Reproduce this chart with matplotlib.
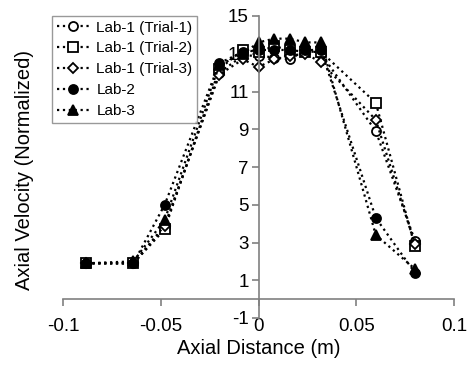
import matplotlib.pyplot as plt
import numpy as np

plt.rcParams['font.family'] = ['Liberation Sans', 'DejaVu Sans']
plt.rcParams['axes.unicode_minus'] = False

# axial positions (m)
x = [-0.088, -0.064, -0.048, -0.02, -0.008, 0.0, 0.008, 0.016, 0.024, 0.032, 0.06, 0.08]

# normalized axial velocity
lab1_t1 = [1.9, 1.9, 3.8, 12.0, 12.9, 12.9, 12.8, 12.7, 13.2, 13.0, 8.9, 3.1]
lab1_t2 = [1.9, 1.9, 3.7, 12.2, 13.2, 13.1, 13.4, 13.2, 13.1, 13.1, 10.4, 2.8]
lab1_t3 = [1.9, 1.9, 3.9, 11.9, 12.7, 12.3, 12.7, 12.9, 13.0, 12.55, 9.5, 2.9]
lab2 = [1.9, 1.9, 5.0, 12.5, 13.1, 13.2, 13.2, 13.2, 13.2, 13.2, 4.3, 1.4]
lab3 = [1.9, 2.0, 4.2, 12.4, 13.0, 13.6, 13.8, 13.8, 13.6, 13.6, 3.4, 1.6]

labels = ['Lab-1 (Trial-1)', 'Lab-1 (Trial-2)', 'Lab-1 (Trial-3)', 'Lab-2', 'Lab-3']
series = [lab1_t1, lab1_t2, lab1_t3, lab2, lab3]
markers = ['o', 's', 'D', 'o', '^']
faces = ['white', 'white', 'white', 'black', 'black']
sizes = [6.5, 6.5, 5.5, 6.5, 7.5]

fig = plt.figure(figsize=(4.69, 3.66), dpi=100)
ax = fig.add_axes([63 / 469, 48 / 366, 391 / 469, 302 / 366])

for y, lab, m, fc, ms in zip(series, labels, markers, faces, sizes):
    ax.plot(x, y, linestyle=':', color='black', linewidth=1.6,
            marker=m, markerfacecolor=fc, markeredgecolor='black',
            markeredgewidth=1.3, markersize=ms, label=lab)

ax.set_xlim(-0.1, 0.1)
ax.set_ylim(-1, 15)
ax.set_xticks([-0.1, -0.05, 0, 0.05, 0.1])
ax.set_xticklabels(['-0.1', '-0.05', '0', '0.05', '0.1'])
ax.set_yticks(np.arange(-1, 16, 2))

ax.spines['left'].set_position(('data', 0))
ax.spines['bottom'].set_position(('data', 0))
ax.spines['top'].set_visible(False)
ax.spines['right'].set_visible(False)
for s in ['left', 'bottom']:
    ax.spines[s].set_color('#808080')
    ax.spines[s].set_linewidth(1.2)

ax.tick_params(axis='both', colors='#808080', labelcolor='black', labelsize=13.5, length=5, width=1.2)
ax.tick_params(axis='x', pad=8.5)
ax.tick_params(axis='y', pad=2)

fig.text(259 / 469, 1 - 348 / 366, 'Axial Distance (m)', ha='center', va='center', fontsize=14.5)
fig.text(24 / 469, 1 - 170 / 366, 'Axial Velocity (Normalized)', ha='center', va='center',
         rotation=90, fontsize=14.5)

leg = ax.legend(loc='upper left', bbox_to_anchor=(52 / 469, 1 - 16 / 366),
                bbox_transform=fig.transFigure, fontsize=11, frameon=True,
                fancybox=False, handlelength=2.2, handletextpad=0.4,
                borderpad=0.3, labelspacing=0.45, borderaxespad=0)
leg.get_frame().set_edgecolor('#808080')
leg.get_frame().set_linewidth(1.0)

plt.savefig('out.png', dpi=100)
